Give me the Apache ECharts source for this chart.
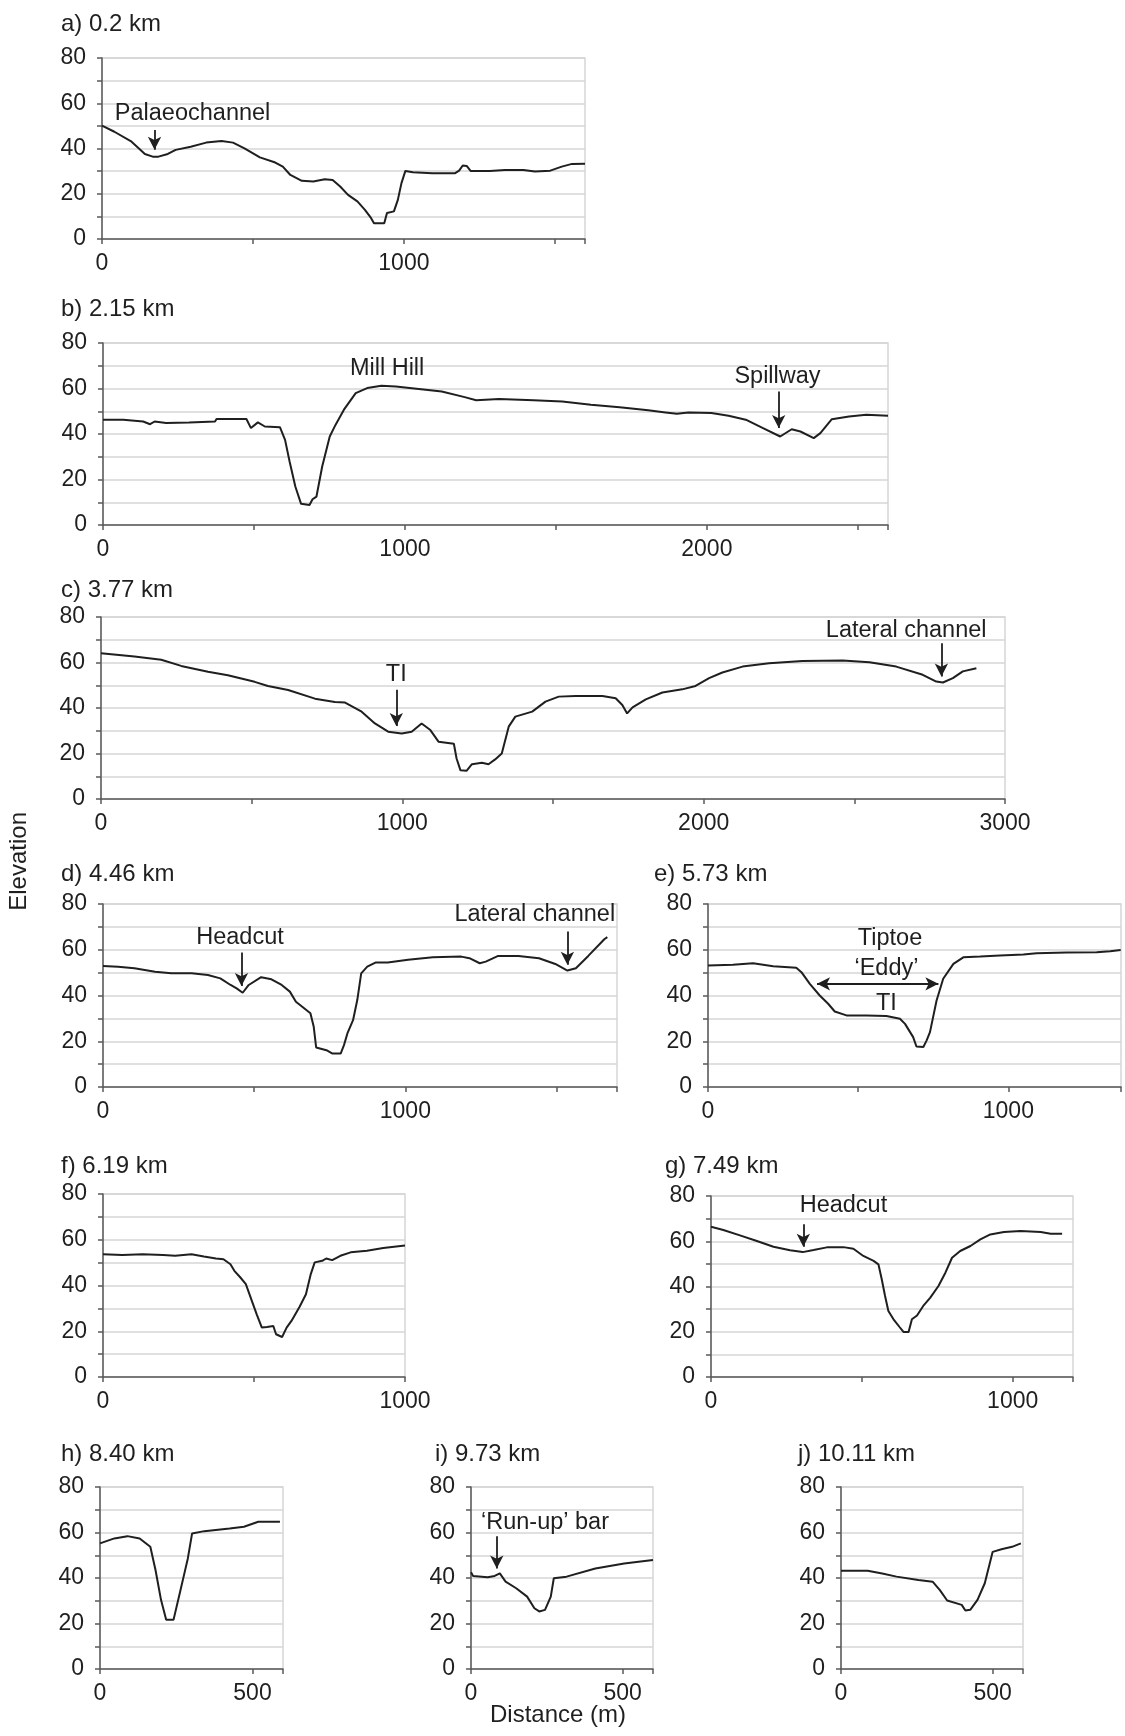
<!DOCTYPE html>
<html>
<head>
<meta charset="utf-8">
<script src="https://cdn.jsdelivr.net/npm/echarts@6/dist/echarts.min.js"></script>
<style>
  html, body { margin: 0; padding: 0; background: #fff; }
  #chart { width: 1125px; height: 1736px; }
</style>
</head>
<body>
<div id="chart"></div>
<script>
// profile data, distance (m) and elevation
const aDist = [0,41,98,142,168,187,218,244,294,345,396,434,472,523,574,599,624,662,700,738,764,789,815,846,871,891,901,935,944,967,980,992,1005,1030,1094,1170,1183,1195,1208,1221,1284,1335,1396,1434,1485,1523,1557,1600];
const aElev = [50.1,47.4,43,37.6,36.4,36.4,37.6,39.4,40.8,42.6,43.3,42.6,40.1,36.1,33.8,32,28.3,25.7,25.4,26.4,26.1,23.2,19.5,16.6,12.9,9.3,7,7,11.5,12.2,17.3,24.7,30.1,29.5,29.1,29.1,30.2,32.5,32.3,30.1,30.1,30.5,30.5,29.8,30.2,32,33.2,33.3];

const bDist = [0,67,133,156,171,209,285,371,376,475,490,513,536,586,603,618,637,656,684,694,707,726,751,770,798,837,875,922,970,1046,1122,1198,1236,1312,1426,1521,1616,1711,1806,1863,1901,1939,2015,2072,2129,2186,2243,2281,2310,2354,2376,2414,2471,2528,2600];
const bElev = [46.3,46.3,45.5,44.3,45.5,44.8,45.1,45.5,46.6,46.6,42.6,45.1,43.3,43,37.4,27.9,16.9,9.3,8.8,11.3,12.5,25.7,38.9,44,50.7,58,60.2,61.2,60.9,59.8,58.7,56.2,54.8,55.4,54.8,54.3,52.9,51.8,50.4,49.5,48.9,49.5,49.2,48,46.3,42.6,38.9,42.1,41.1,38.2,40.4,46.5,47.7,48.5,48];

const cDist = [0,111,200,266,355,421,510,554,621,710,776,810,865,909,953,998,1031,1064,1093,1120,1171,1180,1193,1213,1231,1264,1286,1308,1330,1353,1375,1431,1475,1519,1575,1664,1708,1730,1746,1764,1808,1863,1929,1973,2018,2062,2129,2217,2328,2461,2550,2639,2727,2772,2794,2827,2860,2905];
const cElev = [64.1,62.6,61.2,58.5,55.9,54.4,51.5,49.7,47.9,44.1,42.6,42.4,38.4,33.2,29.6,28.8,29.6,33.2,30.3,25.2,24.3,17.8,12.6,12.4,15.3,15.9,15.3,17.4,20,31.8,36.2,38.4,42.8,45,45.3,45.3,44.3,41.3,37.6,40.3,43.8,46.8,48.2,49.7,53.1,55.6,58.2,59.7,60.7,60.9,60.1,58.2,54.6,51.6,51.2,53.1,56.1,57.5];

const dDist = [0,50,104,172,226,293,347,388,422,442,462,482,523,557,591,618,638,659,686,697,705,739,759,786,797,809,827,841,854,874,901,942,1009,1091,1185,1212,1246,1266,1307,1374,1442,1496,1536,1564,1605,1658,1668];
const dElev = [52.9,52.6,51.9,50.4,49.7,49.7,49,47.5,44.6,43.1,41.2,44.6,48,47.1,44.6,41.7,37.3,35.1,32.2,26.3,17.3,16.1,14.6,14.6,18.3,23.7,29.2,38,49.7,52.6,54.4,54.4,55.6,56.7,57,56.3,54.1,54.8,57.3,57.3,56.3,53.8,50.9,51.9,57.3,64.6,65.5];

const eDist = [0,83,150,217,294,311,339,372,400,422,461,528,594,639,656,683,694,717,728,739,761,783,817,850,906,972,1050,1094,1194,1294,1339,1374];
const eElev = [53.1,53.4,54.1,52.8,52.1,50.2,45.1,40,36.4,33,31.3,31.3,31,29.8,27.6,21.8,17.7,17.5,20.4,24,37.8,47.3,53.8,56.7,57,57.5,57.9,58.5,58.8,58.9,59.3,59.9];

const fDist = [0,64,131,199,239,293,334,374,399,422,435,455,473,489,509,526,543,564,573,593,608,624,651,672,688,701,726,739,759,786,820,874,928,1000];
const fElev = [53.7,53.3,53.7,53.3,53,53.7,52.7,51.8,51.5,49.3,46.4,43.5,40.6,34.7,27.4,21.6,21.9,22.3,18.7,17.5,21.6,24.5,30.7,36.2,45,50.1,50.8,51.8,51.1,53,54.5,55.2,56.4,57.5];

const gDist = [0,41,96,152,207,262,304,340,384,439,472,505,539,555,566,577,588,605,625,638,655,666,683,705,727,754,777,799,826,860,893,926,971,1026,1093,1126,1164];
const gElev = [66.4,65,62.6,60.1,57.6,56,55.2,56.1,57.3,57.4,56.7,53.5,51.3,49.8,43.2,35.8,29.2,25.5,22.1,19.9,19.9,25.5,27.2,31.7,35.1,40.2,46.1,52.7,55.7,57.9,60.8,63,64.1,64.5,64.1,63.3,63.3];

const hDist = [0,47,90,130,165,182,200,217,241,264,278,288,302,342,425,472,519,590];
const hElev = [55.2,57.4,58.4,57.4,53.7,43.5,30.4,21.6,21.6,34.7,42.8,48.6,59.6,60.6,61.8,62.5,64.7,64.7];

const iDist = [0,7,55,78,95,114,149,185,209,225,244,263,273,315,410,505,600];
const iElev = [42.5,40.9,40.3,40.9,42,38.4,35.5,31.8,26.7,25.3,26,31.8,39.9,40.6,44.2,46.4,47.9];

const jDist = [0,88,136,183,255,302,326,350,398,410,426,450,474,500,529,564,593];
const jElev = [43.2,43.2,42,40.6,39.1,38.4,34.7,30.1,28.2,25.7,26,30.4,37.7,51.5,52.6,53.7,55.2];

// panel titles and axis extents
const titles = ['a) 0.2 km','b) 2.15 km','c) 3.77 km','d) 4.46 km','e) 5.73 km','f) 6.19 km','g) 7.49 km','h) 8.40 km','i) 9.73 km','j) 10.11 km'];
const xMaxes = [1600, 2600, 3000, 1700, 1375, 1000, 1200, 600, 600, 600];
const xLabelSteps = [1000, 1000, 1000, 1000, 1000, 1000, 1000, 500, 500, 500];
const yTicks = [0, 20, 40, 60, 80];

// annotations: [panel, text, x, y]
const notes = [
  [0, 'Palaeochannel', 300, 55.5],
  [1, 'Mill Hill', 941, 68.9],
  [1, 'Spillway', 2234, 65.3],
  [2, 'TI', 980, 54.6],
  [2, 'Lateral channel', 2672, 74.1],
  [3, 'Headcut', 453, 65.5],
  [3, 'Lateral channel', 1428, 75.3],
  [4, 'Tiptoe', 606, 64.7],
  [4, '\u2018Eddy\u2019', 594, 52],
  [4, 'TI', 594, 36.7],
  [6, 'Headcut', 439, 75.6],
  [8, '\u2018Run-up\u2019 bar', 244, 64.2]
];
// arrows: [panel, x1, y1, x2, y2, double]
const arrows = [
  [0, 174, 48.2, 174, 39.4, false],
  [1, 2238, 58.7, 2238, 42.6, false],
  [2, 980, 48, 980, 32.1, false],
  [2, 2789, 68.5, 2789, 53.8, false],
  [3, 458, 58.8, 458, 44.2, false],
  [3, 1536, 68, 1536, 53.4, false],
  [4, 363, 45.1, 767, 45.1, true],
  [6, 306, 67.5, 306, 57.6, false],
  [8, 85, 58.4, 85, 44.2, false]
];

const dists = [aDist, bDist, cDist, dDist, eDist, fDist, gDist, hDist, iDist, jDist];
const elevs = [aElev, bElev, cElev, dElev, eElev, fElev, gElev, hElev, iElev, jElev];

// layout (px): [left, top, width, height], title [left, top]
const boxes = [
  [102, 58, 483, 181], [103, 343, 785, 182], [101, 617, 904, 182],
  [103, 904, 514, 183], [708, 904, 413, 183],
  [103, 1194, 302, 183], [711, 1196, 362, 181],
  [100, 1487, 183, 182], [471, 1487, 182, 182], [841, 1487, 182, 182]
];
const titlePos = [
  [56, 7], [56, 292], [56, 573], [56, 857], [649, 857],
  [56, 1149], [660, 1149], [56, 1437], [430, 1437], [793, 1437]
];

const FONT = 'Liberation Sans, Arial, sans-serif';
const INK = '#1f1f1f';

const chart = echarts.init(document.getElementById('chart'), null, { renderer: 'canvas' });

const grid = [], xAxis = [], yAxis = [], series = [], title = [];
boxes.forEach(function (b, k) {
  grid.push({
    left: b[0], top: b[1], width: b[2], height: b[3],
    show: true, borderColor: '#d6d6d6', borderWidth: 1.5, backgroundColor: 'transparent'
  });
  title.push({
    text: titles[k], left: titlePos[k][0], top: titlePos[k][1],
    textStyle: { fontFamily: FONT, fontSize: 24, fontWeight: 'normal', color: INK }
  });
  const step = xLabelSteps[k];
  xAxis.push({
    type: 'value', gridIndex: k, min: 0, max: xMaxes[k], interval: 500,
    axisLine: { show: true, lineStyle: { color: '#5a5a5a', width: 1.5 } },
    axisTick: { show: true, length: 5, lineStyle: { color: '#5a5a5a', width: 1.5 } },
    splitLine: { show: false },
    axisLabel: {
      margin: 13, fontFamily: FONT, fontSize: 23, color: INK,
      formatter: function (v) { return v % step === 0 ? String(v) : ''; }
    }
  });
  yAxis.push({
    type: 'value', gridIndex: k, min: 0, max: 80, interval: 10,
    axisLine: { show: true, lineStyle: { color: '#5a5a5a', width: 1.5 } },
    axisTick: { show: true, length: 5, lineStyle: { color: '#5a5a5a', width: 1.5 } },
    splitLine: { show: true, lineStyle: { color: '#d6d6d6', width: 1.5 } },
    axisLabel: {
      margin: 16, fontFamily: FONT, fontSize: 23, color: INK,
      formatter: function (v) { return yTicks.indexOf(v) >= 0 ? String(v) : ''; }
    }
  });

  const pts = dists[k].map(function (x, i) { return [x, elevs[k][i]]; });
  const myNotes = notes.filter(function (n) { return n[0] === k; });
  const myArrows = arrows.filter(function (a) { return a[0] === k; });

  series.push({
    type: 'line', xAxisIndex: k, yAxisIndex: k,
    data: pts, showSymbol: false, symbol: 'none', smooth: false,
    lineStyle: { color: INK, width: 2 },
    silent: true, animation: false,
    markPoint: myNotes.length ? {
      silent: true, animation: false,
      symbol: 'circle', symbolSize: 1,
      itemStyle: { color: 'rgba(0,0,0,0)' },
      label: { show: true, position: 'inside', fontFamily: FONT, fontSize: 23.5, color: INK },
      data: myNotes.map(function (n) {
        return { coord: [n[2], n[3]], label: { formatter: n[1] } };
      })
    } : undefined,
    markLine: myArrows.length ? {
      silent: true, animation: false,
      symbol: ['none', 'arrow'], symbolSize: [10, 13],
      lineStyle: { color: INK, width: 1.8, type: 'solid' },
      label: { show: false },
      data: myArrows.map(function (a) {
        return [
          { coord: [a[1], a[2]], symbol: a[5] ? 'arrow' : 'none' },
          { coord: [a[3], a[4]] }
        ];
      })
    } : undefined
  });
});

chart.setOption({
  backgroundColor: '#ffffff',
  animation: false,
  title: title,
  grid: grid,
  xAxis: xAxis,
  yAxis: yAxis,
  series: series,
  graphic: [
    {
      type: 'text', left: 7, top: 812, rotation: Math.PI / 2,
      style: { text: 'Elevation', font: '24px ' + FONT, fill: INK }
    },
    {
      type: 'text', left: 490, top: 1703,
      style: { text: 'Distance (m)', font: '24px ' + FONT, fill: INK }
    }
  ]
});
</script>
</body>
</html>
